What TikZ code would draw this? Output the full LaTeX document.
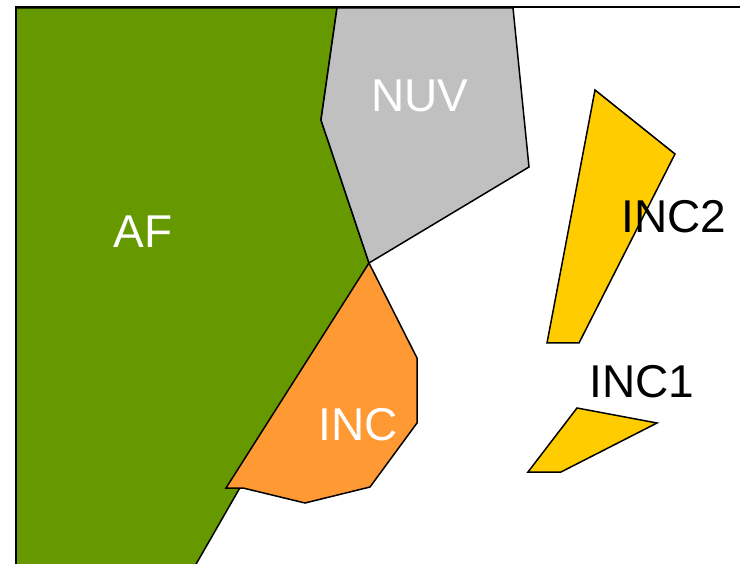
\documentclass[tikz,border=0pt]{standalone}
\usepackage{fontspec}
\setmainfont{Liberation Sans}
\definecolor{afgreen}{RGB}{102,153,0}
\definecolor{nuvgray}{RGB}{192,192,192}
\definecolor{incorange}{RGB}{255,153,51}
\definecolor{incyellow}{RGB}{255,204,0}
\begin{document}
\begin{tikzpicture}[x=1pt,y=-1pt,
  region/.style={draw=black,line width=1.5pt,line join=miter},
  lbl/.style={inner sep=0pt,font=\fontsize{46}{50}\selectfont},
  wlbl/.style={lbl,text=white},
  blbl/.style={lbl,text=black}]
\useasboundingbox (0,0) rectangle (740,564);
\clip (0,0) rectangle (740,564);
% AF
\filldraw[region,fill=afgreen] (16,8) -- (337,8) -- (321,120) -- (369,263) -- (195,566) -- (16,566) -- cycle;
% NUV
\filldraw[region,fill=nuvgray] (337,8) -- (513,8) -- (529,167) -- (369,263) -- (321,120) -- cycle;
% INC
\filldraw[region,fill=incorange] (369,263) -- (417,358) -- (417,423) -- (370,487) -- (305,503) -- (243,488) -- (226,488) -- cycle;
% INC2
\filldraw[region,fill=incyellow] (595,90) -- (675,154) -- (579,343) -- (547,343) -- cycle;
% INC1
\filldraw[region,fill=incyellow] (577,408) -- (657,423) -- (561,472) -- (528,472) -- cycle;
% frame
\draw[line width=2pt] (741,7) -- (16,7) -- (16,566);
% labels
\node[wlbl] (af) at (143,232) {AF};
\node[wlbl] (nuv) at (420,96) {NUV};
\node[wlbl] (inc) at (358,425) {INC};
\node[blbl] (inc2) at (674,217) {INC2};
\node[blbl] (inc1) at (642,382) {INC1};
\end{tikzpicture}
\end{document}
